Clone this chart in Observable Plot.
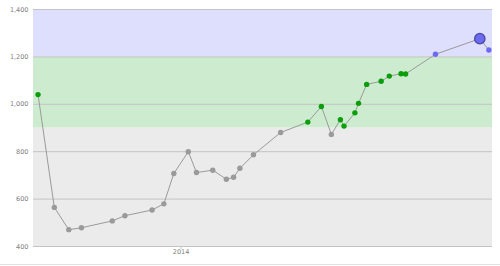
<!DOCTYPE html>
<html><head><meta charset="utf-8">
<script src="https://cdn.jsdelivr.net/npm/d3@7"></script>
<script src="https://cdn.jsdelivr.net/npm/@observablehq/plot@0.6"></script>
<style>
body{margin:0;background:#fff}
#chart{width:500px;height:264px;border-bottom:1px solid #e2e2e2;overflow:hidden}
#chart svg{display:block}
</style>
</head><body><div id="chart"></div>
<script>
const dates = ["2013-07-27","2013-08-14","2013-08-30","2013-09-13","2013-10-17","2013-10-31","2013-11-30","2013-12-13","2013-12-24","2014-01-09","2014-01-18","2014-02-05","2014-02-20","2014-02-28","2014-03-07","2014-03-22","2014-04-21","2014-05-21","2014-06-05","2014-06-16","2014-06-26","2014-06-30","2014-07-12","2014-07-16","2014-07-25","2014-08-10","2014-08-19","2014-09-01","2014-09-06","2014-10-09","2014-11-27","2014-12-07"];
const values = [1041,565,471,479,508,530,554,580,708,800,712,722,684,692,730,787,881,925,991,873,935,908,964,1004,1084,1097,1119,1129,1128,1211,1277,1229];
const highlightDates = ["2014-11-27"];
const yTicks = [400,600,800,1000,1200,1400];
const xTicks = ["2014-01-01"];
const xDomain = ["2013-07-22","2014-12-11"];
const bandFrom = [400,900,1200];
const bandTo = [900,1200,1400];
const bandColors = ["#ebebeb","#cdeccf","#dedefd"];
const zoneBreaks = [900,1200];
const zoneColors = ["#9a9a9a","#0a9e0a","#6b6bf0"];

const parse = d3.utcParse("%Y-%m-%d");
const data = dates.map((d,i)=>({date: parse(d), key: d, value: values[i]}));
const xd = xDomain.map(parse);

const bandMarks = bandFrom.map((v,i)=>Plot.rect([{y1:v,y2:bandTo[i]}],{x1:()=>xd[0],x2:()=>xd[1],y1:"y1",y2:"y2",fill:bandColors[i]}));

const chart = Plot.plot({
  width:500, height:264,
  marginLeft:33, marginRight:8, marginTop:9, marginBottom:18,
  style:{fontFamily:"'DejaVu Sans', Verdana, sans-serif", fontSize:"6.5px", background:"#fff", color:"#777"},
  x:{type:"utc", domain: xd, label:null},
  y:{domain:[400,1400], label:null},
  color:{type:"threshold", domain: zoneBreaks, range: zoneColors},
  marks:[
    ...bandMarks,
    Plot.ruleY(yTicks,{stroke:"#c4c4c4", strokeWidth:1}),
    Plot.axisY(yTicks,{tickSize:0, tickPadding:5, tickFormat:d3.format(","), label:null, fill:"#808080"}),
    Plot.axisX(xTicks.map(parse),{tickSize:3, tickPadding:0, tickFormat:d3.utcFormat("%Y"), label:null, stroke:"#c4c4c4", fill:"#808080"}),
    Plot.line(data,{x:"date", y:"value", stroke:"#9a9a9a", strokeWidth:1}),
    Plot.dot(data,{x:"date", y:"value", r:2.7, fill:"value"}),
    Plot.dot(data.filter(d=>highlightDates.includes(d.key)),{x:"date", y:"value", r:5.2, fill:"value", stroke:"#4a4aa0", strokeWidth:1.3})
  ]
});
document.getElementById("chart").appendChild(chart);
</script>
</body></html>
